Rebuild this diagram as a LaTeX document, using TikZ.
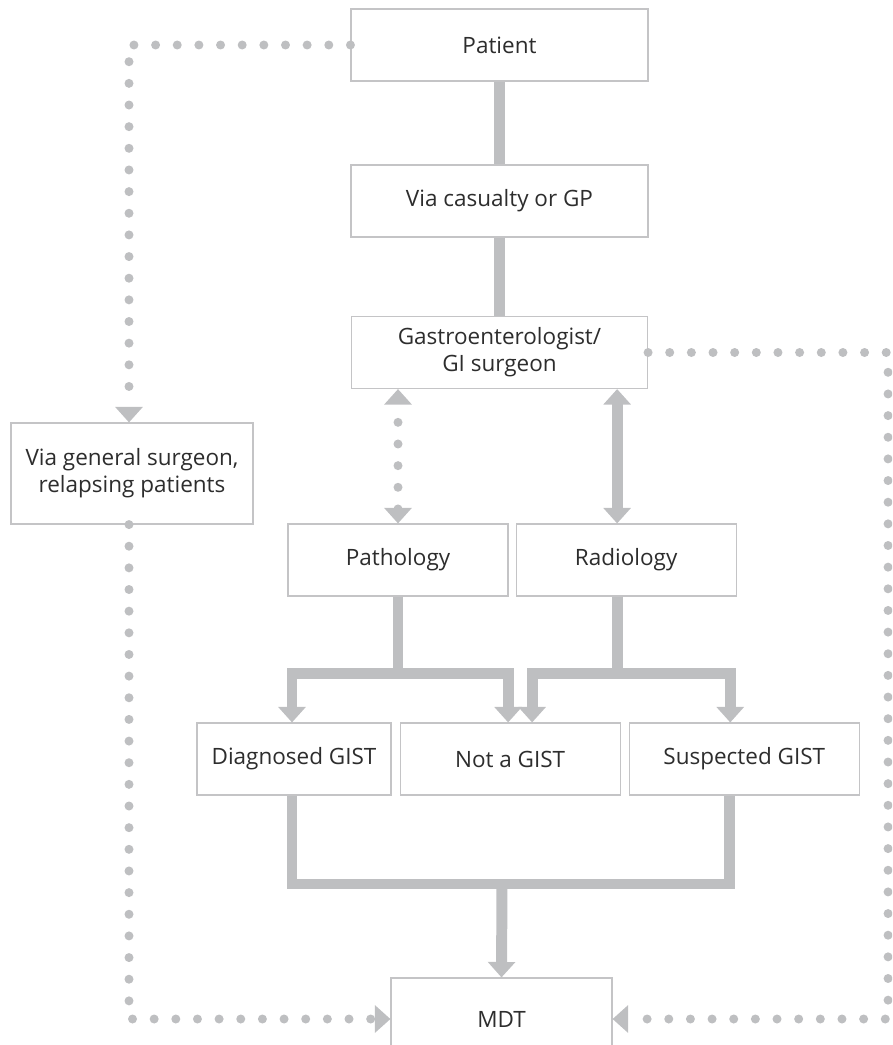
\documentclass[tikz,border=0pt]{standalone}
\usepackage{fontspec}
\setmainfont{Open Sans}
\usepackage{tikz}
\usetikzlibrary{arrows.meta, positioning}
\definecolor{linegray}{RGB}{190,191,193}
\definecolor{boxgray}{RGB}{196,196,198}
\definecolor{txtgray}{RGB}{45,45,45}

\begin{document}
\begin{tikzpicture}[node distance=0.2cm, >={Triangle[width=19pt,length=11pt]}]
  \tikzstyle{stage} = [rectangle, draw=boxgray, line width=0.8pt, fill=white, text=txtgray, align=center, minimum height=1.8cm, font=\fontsize{16}{19}\selectfont]
  \tikzstyle{flow} = [draw=linegray, line width=7.8pt]
  \tikzstyle{dotflow} = [draw=linegray, line width=6.4pt, line cap=round, dash pattern=on 0pt off 15.4pt]

  \useasboundingbox (0,0) rectangle (22.3,-26.125);
  \clip (0,0) rectangle (22.3,-26.125);

  \node [stage, minimum width=7.425cm] (patient) at (12.4875,-1.125) {Patient};
  \node [stage, minimum width=7.425cm] (casualty) at (12.4875,-5.025) {Via casualty or GP};
  \node [stage, minimum width=7.4cm] (gastro) at (12.4875,-8.8125) {Gastroenterologist/\\GI surgeon};
  \node [stage, minimum width=6.05cm, minimum height=2.525cm] (gensurg) at (3.3,-11.8375) {Via general surgeon,\\relapsing patients};

  \node [stage, minimum width=5.5cm] (patho) at (9.95,-14.0) {Pathology};
  \node [stage, minimum width=5.5cm, right=0.175cm of patho] (radio) {Radiology};

  \node [stage, minimum width=4.85cm] (diag) at (7.35,-18.975) {Diagnosed GIST};
  \node [stage, minimum width=5.5cm, right=of diag] (nogist) {Not a GIST};
  \node [stage, minimum width=5.75cm, right=of nogist] (susp) {Suspected GIST};

  \node [stage, minimum width=5.525cm, minimum height=2.05cm] (mdt) at (12.5375,-25.475) {MDT};

  % main referral line
  \draw[flow] (patient) -- (casualty);
  \draw[flow] (casualty) -- (gastro);

  % gastro <-> pathology / radiology
  \draw[dotflow, <->] (patho.north) -- (patho.north |- gastro.south);
  \draw[flow, <->] ([xshift=-0.225cm]radio.north) -- ([xshift=-0.225cm]radio.north |- gastro.south);

  % results
  \draw[flow, ->] (patho.south) -- ++(0,-1.925) -| ([xshift=-0.05cm]diag.north);
  \draw[flow, ->] (patho.south) -- ++(0,-1.925) -| ([xshift=-0.05cm]nogist.north);
  \draw[flow, ->] ([xshift=-0.225cm]radio.south) -- ++(0,-1.925) -| ([xshift=0.55cm]nogist.north);
  \draw[flow, ->] ([xshift=-0.225cm]radio.south) -- ++(0,-1.925) -| ([xshift=-0.35cm]susp.north);

  % to the MDT
  \coordinate (merge) at (12.55,-22.1);
  \draw[flow] ([xshift=-0.05cm]diag.south) |- (merge) -| ([xshift=-0.375cm]susp.south);
  \draw[flow, ->] (merge) -- (mdt.north);

  % other routes
  \draw[dotflow, ->] (patient.west) -| ([xshift=-0.075cm]gensurg.north);
  \draw[dotflow, ->] ([xshift=-0.075cm]gensurg.south) |- (mdt.west);
  \draw[dotflow, ->] (gastro.east) -- ++(6.0,0) |- (mdt.east);
\end{tikzpicture}
\end{document}
